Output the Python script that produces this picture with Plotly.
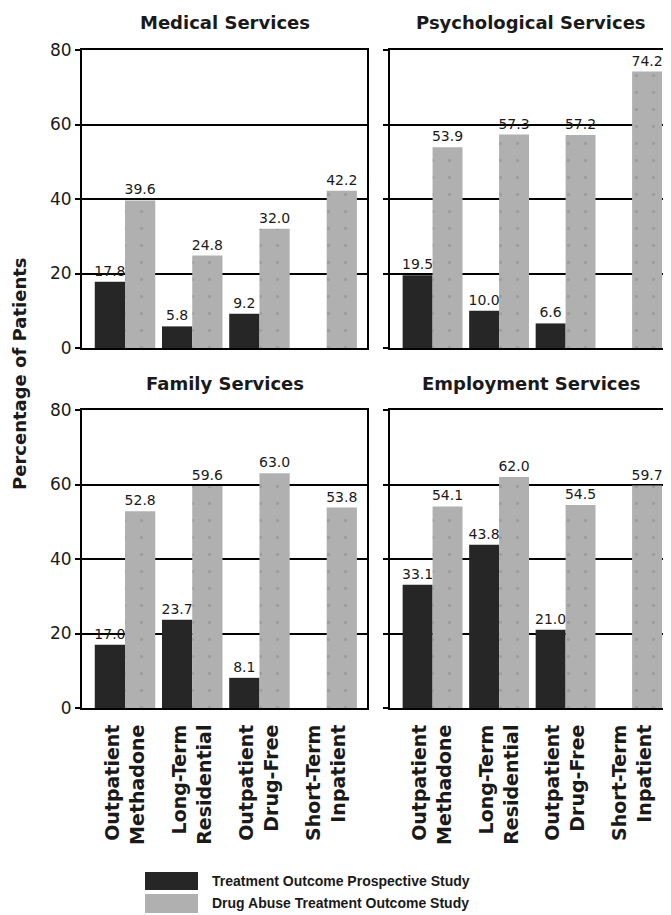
import plotly.graph_objects as go

# ---------------- data ----------------
categories = ["Outpatient<br>Methadone", "Long-Term<br>Residential",
              "Outpatient<br>Drug-Free", "Short-Term<br>Inpatient"]
panel_titles = ["Medical Services", "Psychological Services",
                "Family Services", "Employment Services"]
series_names = ["Treatment Outcome Prospective Study",
                "Drug Abuse Treatment Outcome Study"]

tops_medical = [17.8, 5.8, 9.2, None]
datos_medical = [39.6, 24.8, 32.0, 42.2]
tops_psych = [19.5, 10.0, 6.6, None]
datos_psych = [53.9, 57.3, 57.2, 74.2]
tops_family = [17.0, 23.7, 8.1, None]
datos_family = [52.8, 59.6, 63.0, 53.8]
tops_employ = [33.1, 43.8, 21.0, None]
datos_employ = [54.1, 62.0, 54.5, 59.7]

y_ticks = [0, 20, 40, 60, 80]
y_title = "Percentage of Patients"

# ---------------- layout helpers ----------------
W, H = 671, 915
OFF = 8  # page body margin in the browser


def fx(p):
    return (p - OFF) / W


def fy(p):
    return 1 - (p - OFF) / H


DARK = "#262626"
LIGHT = "#b0b0b0"
TXT = "#1a1a1a"

panels = [
    (tops_medical, datos_medical, "x", "y"),
    (tops_psych, datos_psych, "x2", "y2"),
    (tops_family, datos_family, "x3", "y3"),
    (tops_employ, datos_employ, "x4", "y4"),
]

fig = go.Figure()


def fmt(vals):
    return ["" if v is None else f"{v:.1f}" for v in vals]


for i, (tops, datos, xa, ya) in enumerate(panels):
    fig.add_trace(go.Bar(
        x=categories, y=tops, name=series_names[0], xaxis=xa, yaxis=ya,
        marker=dict(color=DARK, line=dict(width=0)),
        text=fmt(tops), textposition="outside", constraintext="none",
        textfont=dict(family="DejaVu Sans", size=14, color=TXT),
        cliponaxis=False, showlegend=False, offsetgroup="a",
    ))
    fig.add_trace(go.Bar(
        x=categories, y=datos, name=series_names[1], xaxis=xa, yaxis=ya,
        marker=dict(color=LIGHT, line=dict(width=0),
                    pattern=dict(shape=".", fgcolor="#8a8a8a", size=17,
                                 solidity=0.03, fillmode="overlay")),
        text=fmt(datos), textposition="outside", constraintext="none",
        textfont=dict(family="DejaVu Sans", size=14, color=TXT),
        cliponaxis=False, showlegend=False, offsetgroup="b",
    ))

x_domains = [[fx(82), fx(367)], [fx(390), min(1.0, fx(672))]]
y_domains = [[fy(348), fy(50)], [fy(708), fy(410)]]

axis_common = dict(showline=True, linecolor="black", linewidth=2, mirror=True)

layout = dict(
    width=W, height=H,
    margin=dict(l=0, r=0, t=0, b=0),
    paper_bgcolor="white", plot_bgcolor="white",
    barmode="group", bargap=0.1, bargroupgap=0.0,
    showlegend=False,
    font=dict(family="DejaVu Sans", color=TXT),
)

names = ["", "2", "3", "4"]
for i, n in enumerate(names):
    row, col = divmod(i, 2)
    layout["xaxis" + n] = dict(
        domain=x_domains[col], anchor="y" + n,
        type="category", range=[-0.64, 3.6],
        showticklabels=(row == 1), tickangle=-90, ticks="",
        ticklabelstandoff=7,
        tickfont=dict(family="DejaVu Sans", size=19, weight="bold", color=TXT),
        showgrid=False, automargin=False, **axis_common,
    )
    layout["yaxis" + n] = dict(
        domain=y_domains[row], anchor="x" + n,
        range=[0, 80], tickvals=y_ticks,
        showticklabels=(col == 0),
        ticks="outside", ticklen=5, tickwidth=2, tickcolor="black",
        tickfont=dict(family="DejaVu Sans", size=17, color=TXT),
        showgrid=True, gridcolor="black", gridwidth=2,
        zeroline=False, automargin=False, **axis_common,
    )

fig.update_layout(**layout)

# panel titles
for i, n in enumerate(names):
    fig.add_annotation(
        text=panel_titles[i], xref="x" + n + " domain",
        yref="y" + n + " domain", x=0.5, y=1, yshift=27,
        showarrow=False, xanchor="center", yanchor="middle",
        font=dict(family="DejaVu Sans", size=18, weight="bold", color=TXT),
    )

# shared y-axis title
fig.add_annotation(
    text=y_title, xref="paper", yref="paper", x=fx(19), y=fy(374),
    textangle=-90, showarrow=False, xanchor="center", yanchor="middle",
    font=dict(family="DejaVu Sans", size=18, weight="bold", color=TXT),
)

# legend (drawn manually to match the large swatches)
leg_rows = [(872, 890, DARK, 881), (894, 913, LIGHT, 903)]
for (y0, y1, c, yc), name in zip(leg_rows, series_names):
    fig.add_shape(type="rect", xref="paper", yref="paper",
                  x0=fx(145), x1=fx(198), y0=fy(y1), y1=fy(y0),
                  fillcolor=c, line=dict(width=0))
    fig.add_annotation(
        text=name, xref="paper", yref="paper", x=fx(210), y=fy(yc),
        showarrow=False, xanchor="left", yanchor="middle",
        font=dict(family="Liberation Sans", size=14, weight="bold", color=TXT),
    )

fig.write_html("out.html")
